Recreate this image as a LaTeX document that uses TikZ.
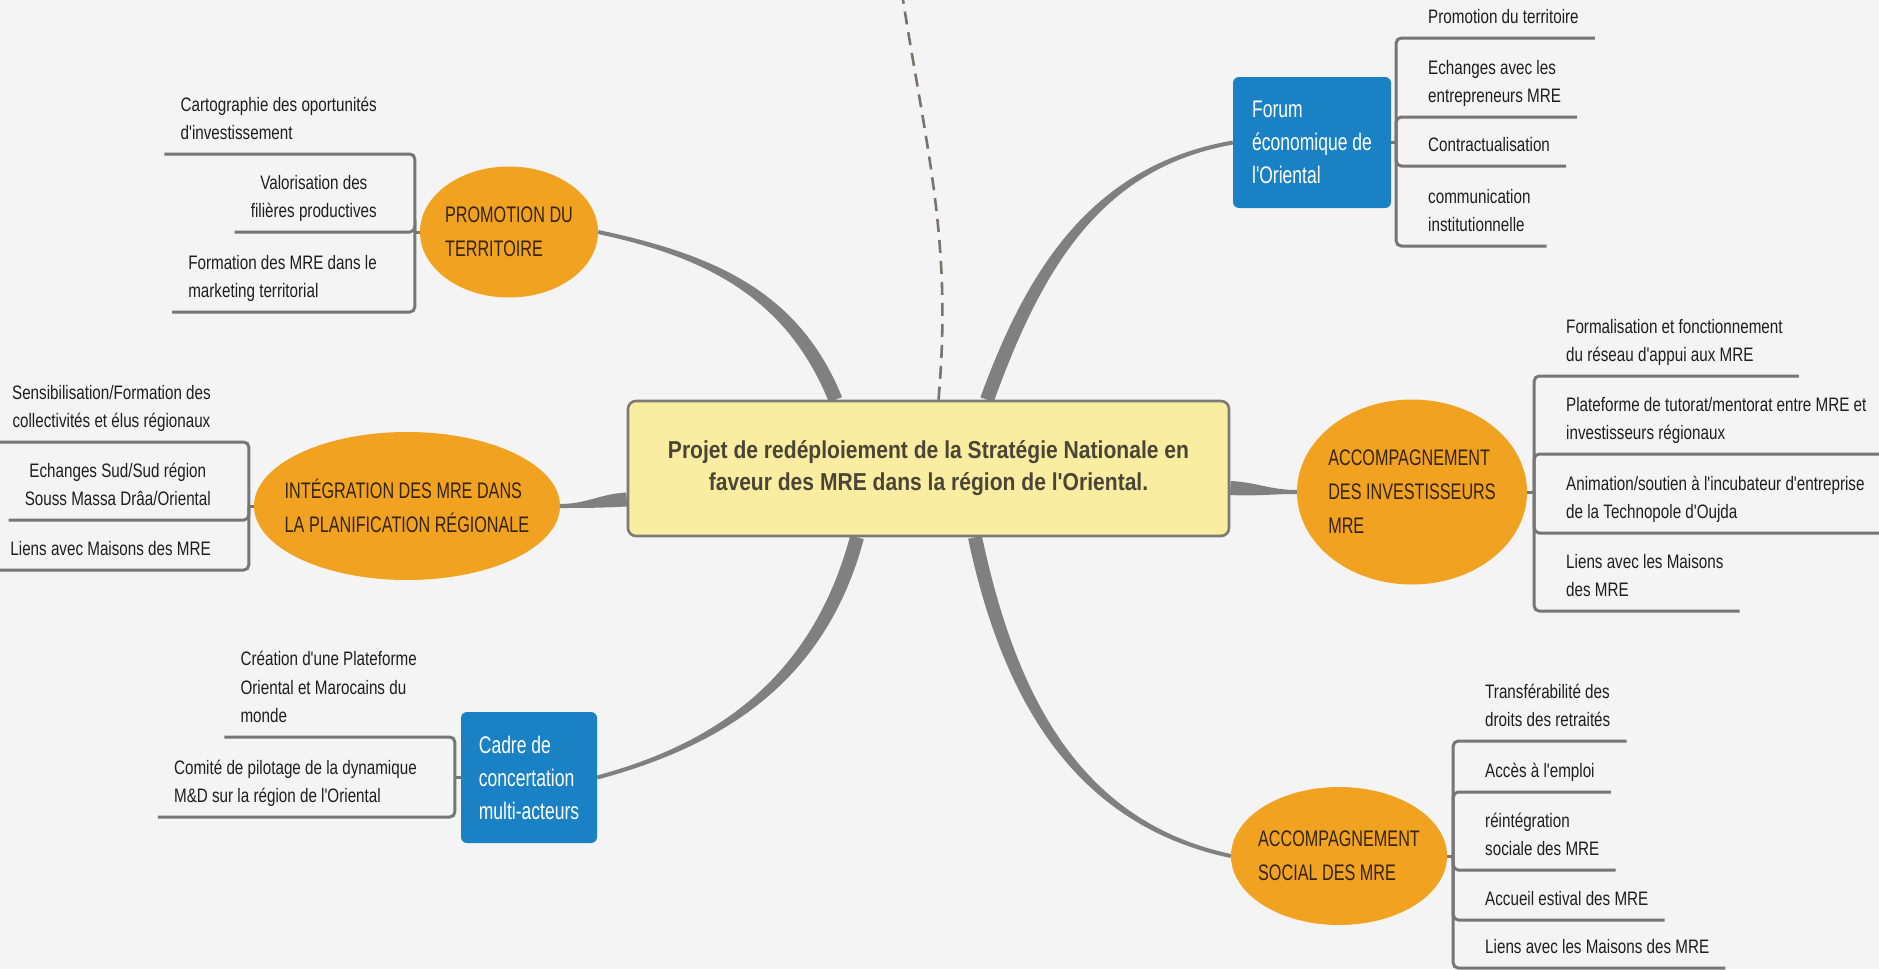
\documentclass[tikz,border=0pt]{standalone}
\usepackage{fontspec}
\usepackage{tikz}
\usetikzlibrary{positioning}
\usetikzlibrary{calc}
\usetikzlibrary{shapes.geometric}
\usetikzlibrary{backgrounds}
\newfontfamily\twigfont{Liberation Sans}[FakeStretch=0.78]
\newfontfamily\topicfont{Liberation Sans}[FakeStretch=0.72]
\newfontfamily\boxfont{Liberation Sans}[FakeStretch=0.73]
\newfontfamily\rootfont{Liberation Sans}[FakeStretch=0.86]
\definecolor{paper}{HTML}{F4F4F4}
\definecolor{branchgray}{HTML}{808080}
\definecolor{twiggray}{HTML}{767676}
\definecolor{linkgray}{HTML}{7A736C}
\definecolor{rootfill}{HTML}{F8EDA0}
\definecolor{rootedge}{HTML}{7C7A72}
\definecolor{roottext}{HTML}{4A4536}
\definecolor{topicorange}{HTML}{F1A221}
\definecolor{topictext}{HTML}{33240C}
\definecolor{boxblue}{HTML}{1A82C4}
\definecolor{twigtext}{HTML}{1E1E1E}
\tikzset{%
  branch/.style = {fill=branchgray},
  twig/.style = {draw=twiggray,line width=3pt,rounded corners=5pt},
  link/.style = {draw=linkgray,line width=2.6pt,dash pattern=on 13pt off 8pt},
  root/.style = {rectangle,draw=rootedge,line width=2.6pt,rounded corners=8pt,
        fill=rootfill,text=roottext,align=center,
        minimum width=601pt,minimum height=135pt,
        font=\rootfont\bfseries\fontsize{24.5}{32}\selectfont},
  topic/.style = {ellipse,fill=topicorange,text=topictext,inner sep=-20pt,
        align=left,font=\topicfont\fontsize{22.5}{34}\selectfont},
  tbox/.style = {rectangle,rounded corners=6pt,fill=boxblue,text=white,
        align=left,minimum height=131pt,
        font=\boxfont\fontsize{24}{33}\selectfont},
  ltwig/.style = {anchor=south east,inner xsep=16pt,inner ysep=9pt,
        align=left,text=twigtext,
        execute at end node={\rule[-5pt]{0pt}{5pt}},
        font=\twigfont\fontsize{19.5}{28.5}\selectfont},
  rtwig/.style = {ltwig,anchor=south west}
}
% tapered branch: from, out angle, in angle, to
\newcommand{\growbranch}[4]{%
  \fill[branch] ($(#1)+(#2+90:7pt)$) to[out=#2,in=#3] ($(#4)+(#3-90:2pt)$)
    -- ($(#4)+(#3+90:2pt)$) to[out=#3,in=#2] ($(#1)+(#2-90:7pt)$) -- cycle;}
\begin{document}
\begin{tikzpicture}[x=1pt,y=1pt]
    \useasboundingbox (0,0) rectangle (1879,-969);
    % central topic and main branches
    \node[root] (root) at (928.5,-468.5)
        {Projet de redéploiement de la Stratégie Nationale en\\faveur des MRE dans la région de l'Oriental.};
    \node[topic,minimum width=178pt,minimum height=131pt] (promo) at (509,-232)
        {PROMOTION DU\\TERRITOIRE};
    \node[topic,minimum width=306pt,minimum height=148pt] (integ) at (407,-506)
        {INTÉGRATION DES MRE DANS\\LA PLANIFICATION RÉGIONALE};
    \node[tbox,minimum width=136pt] (cadre) at (529,-777.5)
        {Cadre de\\concertation\\multi-acteurs};
    \node[tbox,minimum width=158pt] (forum) at (1312,-142.5)
        {Forum\\économique de\\l'Oriental};
    \node[topic,minimum width=230pt,minimum height=185pt] (invest) at (1412,-492)
        {ACCOMPAGNEMENT\\DES INVESTISSEURS\\MRE};
    \node[topic,minimum width=216pt,minimum height=138pt] (social) at (1339,-856)
        {ACCOMPAGNEMENT\\SOCIAL DES MRE};

    \coordinate (r-promo) at ([xshift=-93pt]root.north);
    \coordinate (r-forum) at ([xshift=58.5pt]root.north);
    \coordinate (r-up) at ([xshift=10pt]root.north);
    \coordinate (r-integ) at ([yshift=-31pt]root.west);
    \coordinate (r-invest) at ([yshift=-19.5pt]root.east);
    \coordinate (r-cadre) at ([xshift=-71.5pt]root.south);
    \coordinate (r-social) at ([xshift=46.5pt]root.south);
    \coordinate (up) at (903,0);

    \begin{scope}[on background layer]
        \fill[paper] (0,0) rectangle (1879,-969);
        \growbranch{r-promo}{112}{-12}{promo.east}
        \growbranch{r-forum}{70}{190}{forum.west}
        \growbranch{r-integ}{183}{0}{integ.east}
        \growbranch{r-invest}{-3}{180}{invest.west}
        \growbranch{r-cadre}{-105}{15}{cadre.east}
        \growbranch{r-social}{-78}{168}{social.west}
        \draw[link] (r-up) to[out=85,in=-81] (up);
    \end{scope}

    % promotion du territoire
    \coordinate (pb) at ([xshift=-5pt]promo.west);
    \node[ltwig] (p1) at (393,-154) {Cartographie des oportunités\\d'investissement};
    \node[ltwig,align=center] (p2) at (393,-232) {Valorisation des\\filières productives};
    \node[ltwig] (p3) at (393,-312) {Formation des MRE dans le\\marketing territorial};
    \draw[twig] (promo) -- (pb);
    \foreach \kid in {p1,p2,p3} \draw[twig] (pb) |- (\kid.south west);

    % integration
    \coordinate (ib) at ([xshift=-5pt]integ.west);
    \node[ltwig,align=center] (i1) at (227,-442) {Sensibilisation/Formation des\\collectivités et élus régionaux};
    \node[ltwig,align=center] (i2) at (227,-520) {Echanges Sud/Sud région\\Souss Massa Drâa/Oriental};
    \node[ltwig] (i3) at (227,-570) {Liens avec Maisons des MRE};
    \draw[twig] (integ) -- (ib);
    \foreach \kid in {i1,i2,i3} \draw[twig] (ib) |- (\kid.south west);

    % cadre de concertation
    \coordinate (kb) at ([xshift=-6pt]cadre.west);
    \node[ltwig] (k1) at (433,-737) {Création d'une Plateforme\\Oriental et Marocains du\\monde};
    \node[ltwig] (k2) at (433,-817) {Comité de pilotage de la dynamique\\M\&D sur la région de l'Oriental};
    \draw[twig] (cadre) -- (kb);
    \foreach \kid in {k1,k2} \draw[twig] (kb) |- (\kid.south west);

    % forum
    \coordinate (fb) at ([xshift=5pt]forum.east);
    \node[rtwig] (f1) at (1412,-38) {Promotion du territoire};
    \node[rtwig] (f2) at (1412,-117) {Echanges avec les\\entrepreneurs MRE};
    \node[rtwig] (f3) at (1412,-166) {Contractualisation};
    \node[rtwig] (f4) at (1412,-246) {communication\\institutionnelle};
    \draw[twig] (forum) -- (fb);
    \foreach \kid in {f1,f2,f3,f4} \draw[twig] (fb) |- (\kid.south east);

    % investisseurs
    \coordinate (vb) at ([xshift=7pt]invest.east);
    \node[rtwig] (v1) at (1550,-376) {Formalisation et fonctionnement\\du réseau d'appui aux MRE};
    \node[rtwig] (v2) at (1550,-454) {Plateforme de tutorat/mentorat entre MRE et\\investisseurs régionaux};
    \node[rtwig] (v3) at (1550,-533) {Animation/soutien à l'incubateur d'entreprise\\de la Technopole d'Oujda};
    \node[rtwig] (v4) at (1550,-611) {Liens avec les Maisons\\des MRE};
    \draw[twig] (invest) -- (vb);
    \foreach \kid in {v1,v2,v3,v4} \draw[twig] (vb) |- (\kid.south east);

    % social
    \coordinate (sb) at ([xshift=6pt]social.east);
    \node[rtwig] (s1) at (1469,-741) {Transférabilité des\\droits des retraités};
    \node[rtwig] (s2) at (1469,-792) {Accès à l'emploi};
    \node[rtwig] (s3) at (1469,-870) {réintégration\\sociale des MRE};
    \node[rtwig] (s4) at (1469,-920) {Accueil estival des MRE};
    \node[rtwig] (s5) at (1469,-968) {Liens avec les Maisons des MRE};
    \draw[twig] (social) -- (sb);
    \foreach \kid in {s1,s2,s3,s4,s5} \draw[twig] (sb) |- (\kid.south east);
\end{tikzpicture}
\end{document}
